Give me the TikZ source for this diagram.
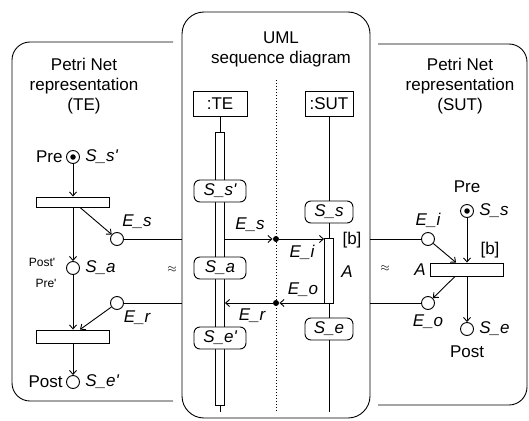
\documentclass[tikz,border=0pt]{standalone}
\usepackage{fontspec}
\setmainfont{Liberation Sans}
\usetikzlibrary{arrows.meta}

\begin{document}
\begin{tikzpicture}[x=1pt, y=-1pt, line width=0.9pt,
    >={Straight Barb[length=4pt,width=7pt]},
    font=\fontsize{17}{20}\selectfont,
    place/.style={circle, draw, fill=white, minimum size=13pt, inner sep=0pt},
    trans/.style={draw, fill=white, minimum width=73pt, minimum height=11pt, inner sep=0pt},
    state/.style={draw, fill=white, rounded corners=6pt, minimum width=52pt, minimum height=22pt, inner sep=0pt, font=\fontsize{17}{20}\selectfont\itshape},
    obj/.style={draw, fill=white, minimum width=54pt, minimum height=25pt, inner sep=0pt},
    lbl/.style={inner sep=1pt, font=\fontsize{17}{20}\selectfont\itshape},
    small/.style={inner sep=1pt, font=\fontsize{12}{14}\selectfont},
    token/.style={circle, fill, inner sep=0pt, minimum size=5.5pt}]
    \useasboundingbox (0,0) rectangle (529,420);

    % Panel frames
    \draw[rounded corners=18pt] (173,42) -- (12,42) -- (12,401) -- (173,401);
    \draw[rounded corners=22pt] (182,12) rectangle (370,418);
    \draw[rounded corners=18pt] (378,44) -- (527,44) -- (527,405) -- (378,405);

    % Panel titles
    \node[align=center] (tleft) at (84,86) {Petri Net\\representation\\(TE)};
    \node[align=center] (tmid) at (281,49) {UML\\sequence diagram};
    \node[align=center] (tright) at (460,86) {Petri Net\\representation\\(SUT)};

    % Panel edges where the nets meet the sequence diagram
    \coordinate (cl1) at (182,239);
    \coordinate (cl2) at (182,303);
    \coordinate (cr1) at (370,239);
    \coordinate (cr2) at (370,303);

    % Sequence diagram: lifelines
    \draw[dotted, line width=1pt] (276,80) -- (276,412);
    \node[obj] (te) at (220,104) {:TE};
    \node[obj, minimum width=48pt] (sut) at (329,104) {:SUT};
    \node[draw, fill=white, minimum width=9pt, minimum height=273pt, inner sep=0pt] (tebar) at (220,268.5) {};
    \node[draw, fill=white, minimum width=9pt, minimum height=65pt, inner sep=0pt] (subar) at (329,270.5) {};
    \coordinate (teend) at (220,412);
    \coordinate (suend) at (329,412);
    \draw (te) -- (tebar);
    \draw (tebar) -- (teend);

    % States on the lifelines
    \node[state] (tss) at (220,191) {S\_s\textquotesingle};
    \node[state] (tsa) at (220,268) {S\_a};
    \node[state] (tse) at (220,338) {S\_e\textquotesingle};
    \node[state, minimum width=48pt] (uss) at (329,212) {S\_s};
    \node[state, minimum width=48pt] (use) at (329,329) {S\_e};
    \draw (sut) -- (uss);
    \draw (uss) -- (subar);
    \draw (subar) -- (use);
    \draw (use) -- (suend);

    % Messages through the gates
    \node[token, minimum size=6pt] (dots) at (276,239) {};
    \node[token, minimum size=6pt] (doto) at (276,303) {};
    \draw[->] (tebar.east |- dots) -- (dots.west);
    \draw[->] (dots.east) -- (subar.west |- dots);
    \draw[->] (subar.west |- doto) -- (doto.east);
    \draw[->] (doto.west) -- (tebar.east |- doto);
    \node[lbl] (les) at (250,225) {E\_s};
    \node[lbl] (lei) at (302,252) {E\_i};
    \node[lbl] (leo) at (303,290) {E\_o};
    \node[lbl] (ler) at (252,316) {E\_r};
    \node[inner sep=1pt] (lbc) at (352,240) {[b]};
    \node[lbl] (lac) at (347,272) {A};

    % Equivalence signs
    \node[small] (eql) at (172,270) {$\approx$};
    \node[small] (eqr) at (385,269) {$\approx$};

    % Left net (TE)
    \node[place] (ssl) at (73,157) {};
    \node[token] (tokl) at (ssl) {};
    \node[inner sep=1pt, anchor=east] (lprel) at ([xshift=-2pt]ssl.west) {Pre};
    \node[lbl, anchor=west] (lssl) at ([xshift=4pt]ssl.east) {S\_s\textquotesingle};
    \node[trans, minimum height=10pt] (tl1) at (73,202) {};
    \node[place] (esl) at (117,239) {};
    \node[lbl] (lesl) at (137,222) {E\_s};
    \node[place] (sal) at (73,268) {};
    \node[small] (lpost) at (42,262) {Post\textquotesingle};
    \node[small] (lpre) at (46,283) {Pre\textquotesingle};
    \node[lbl, anchor=west] (lsal) at ([xshift=4pt]sal.east) {S\_a};
    \node[place] (erl) at (117,303) {};
    \node[lbl] (lerl) at (137,318) {E\_r};
    \node[trans, minimum height=13pt] (tl2) at (73,336.5) {};
    \node[place] (sel) at (73,382) {};
    \node[inner sep=1pt, anchor=east] (lpostl) at ([xshift=-2pt]sel.west) {Post};
    \node[lbl, anchor=west] (lsel) at ([xshift=4pt]sel.east) {S\_e\textquotesingle};
    \draw[->] (ssl) -- (tl1);
    \draw[->] ([xshift=7pt]tl1.south) -- (esl);
    \draw[->] (tl1) -- (sal);
    \draw[->] (sal) -- (tl2);
    \draw[->] (erl) -- ([xshift=7pt]tl2.north);
    \draw[->] (tl2) -- (sel);
    \draw (esl) -- (cl1);
    \draw (erl) -- (cl2);

    % Right net (SUT)
    \node[inner sep=1pt] (lprer) at (467,187) {Pre};
    \node[place] (ssr) at (467,211) {};
    \node[token] (tokr) at (ssr) {};
    \node[lbl, anchor=west] (lssr) at ([xshift=4pt]ssr.east) {S\_s};
    \node[place] (eir) at (428,239) {};
    \node[lbl] (leir) at (428,220) {E\_i};
    \node[trans, minimum height=13pt] (tr) at (467,269.5) {};
    \node[lbl, anchor=east] (lar) at ([xshift=-3pt]tr.west) {A};
    \node[inner sep=1pt] (lbr) at (490,250) {[b]};
    \node[place] (eor) at (428,303) {};
    \node[lbl] (leor) at (428,322) {E\_o};
    \node[place] (ser) at (467,329) {};
    \node[lbl, anchor=west] (lser) at ([xshift=4pt]ser.east) {S\_e};
    \node[inner sep=1pt] (lpostr) at (467,352) {Post};
    \draw[->] (eir) -- ([xshift=-11pt]tr.north);
    \draw[->] (ssr) -- (ssr |- tr.north);
    \draw[->] ([xshift=-12pt]tr.south) -- (eor);
    \draw[->] (tr.south -| ser) -- (ser);
    \draw (cr1) -- (eir);
    \draw (cr2) -- (eor);
\end{tikzpicture}
\end{document}
